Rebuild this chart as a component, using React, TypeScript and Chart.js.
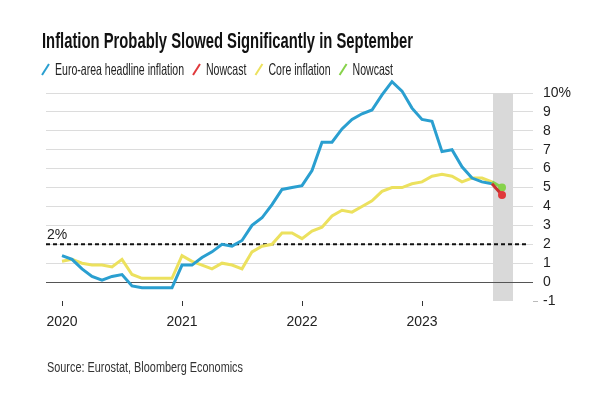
import React, { useEffect, useRef } from "react";
import { Chart, registerables } from "chart.js";

Chart.register(...registerables);

// ---- Data (monthly, Jan 2020 .. Aug 2023) ----
const yearLabels = ["2020", "2021", "2022", "2023"];
const headline = [
  1.4, 1.2, 0.7, 0.3, 0.1, 0.3, 0.4, -0.2, -0.3, -0.3, -0.3, -0.3,
  0.9, 0.9, 1.3, 1.6, 2.0, 1.9, 2.2, 3.0, 3.4, 4.1, 4.9, 5.0,
  5.1, 5.9, 7.4, 7.4, 8.1, 8.6, 8.9, 9.1, 9.9, 10.6, 10.1, 9.2,
  8.6, 8.5, 6.9, 7.0, 6.1, 5.5, 5.3, 5.2,
];
const core = [
  1.1, 1.2, 1.0, 0.9, 0.9, 0.8, 1.2, 0.4, 0.2, 0.2, 0.2, 0.2,
  1.4, 1.1, 0.9, 0.7, 1.0, 0.9, 0.7, 1.6, 1.9, 2.0, 2.6, 2.6,
  2.3, 2.7, 2.9, 3.5, 3.8, 3.7, 4.0, 4.3, 4.8, 5.0, 5.0, 5.2,
  5.3, 5.6, 5.7, 5.6, 5.3, 5.5, 5.5, 5.3,
];
const headlineNowcast = 4.6; // Sep 2023
const coreNowcast = 5.0; // Sep 2023
const yTickValues = [-1, 0, 1, 2, 3, 4, 5, 6, 7, 8, 9, 10];
const targetRate = 2;
const legendItems = [
  { label: "Euro-area headline inflation", color: "#2a9fd0" },
  { label: "Nowcast", color: "#e0393c" },
  { label: "Core inflation", color: "#ece15e" },
  { label: "Nowcast", color: "#86d24a" },
];
const titleText = "Inflation Probably Slowed Significantly in September";
const sourceText = "Source: Eurostat, Bloomberg Economics";

const FONT = '"Liberation Sans Narrow", "Liberation Sans", Arial, sans-serif';
const lastIdx = headline.length - 1;
const nowIdx = headline.length;

function drawFit(ctx: CanvasRenderingContext2D, text: string, x: number, y: number, font: string, color: string, width: number) {
  ctx.save();
  ctx.font = font;
  const m = ctx.measureText(text).width;
  const s = width / m;
  ctx.translate(x, y);
  ctx.scale(s, 1);
  ctx.fillStyle = color;
  ctx.textAlign = "left";
  ctx.textBaseline = "alphabetic";
  ctx.fillText(text, 0, 0);
  ctx.restore();
}

const chromePlugin = {
  id: "chrome",
  beforeDatasetsDraw(chart: any) {
    const { ctx, chartArea, scales } = chart;
    const x = scales.x;
    const y = scales.y;
    ctx.save();
    // nowcast band
    const x0 = x.getPixelForValue(nowIdx - 0.9);
    const x1 = x.getPixelForValue(nowIdx + 1.1);
    ctx.fillStyle = "#d9d9d9";
    ctx.fillRect(x0, chartArea.top, x1 - x0, chartArea.bottom - chartArea.top);
    // zero line over band
    const y0 = Math.round(y.getPixelForValue(0)) + 0.5;
    ctx.strokeStyle = "#555";
    ctx.lineWidth = 1;
    ctx.beginPath();
    ctx.moveTo(chartArea.left, y0);
    ctx.lineTo(chartArea.right, y0);
    ctx.stroke();
    // 2% target dashed line
    const yt = y.getPixelForValue(targetRate);
    ctx.strokeStyle = "#111";
    ctx.lineWidth = 2;
    ctx.setLineDash([4, 3]);
    ctx.beginPath();
    ctx.moveTo(chartArea.left, yt);
    ctx.lineTo(chartArea.right - 5, yt);
    ctx.stroke();
    ctx.restore();
  },
  afterDraw(chart: any) {
    const { ctx, scales, chartArea } = chart;
    const y = scales.y;
    // small tick at bottom value
    ctx.save();
    const yb = Math.round(y.getPixelForValue(yTickValues[0])) + 0.5;
    ctx.strokeStyle = "#bbb";
    ctx.lineWidth = 1;
    ctx.beginPath();
    ctx.moveTo(chartArea.right, yb);
    ctx.lineTo(chartArea.right + 5, yb);
    ctx.stroke();
    ctx.restore();
    // title
    drawFit(ctx, titleText, 42, 48, `bold 22px ${FONT}`, "#111", 371);
    // legend
    ctx.save();
    const lf = `16.5px ${FONT}`;
    ctx.font = lf;
    const s = 129 / ctx.measureText(legendItems[0].label).width;
    let lx = 42;
    const baseY = 75;
    for (const it of legendItems) {
      ctx.strokeStyle = it.color;
      ctx.lineWidth = 2;
      ctx.beginPath();
      ctx.moveTo(lx, baseY);
      ctx.lineTo(lx + 7, baseY - 11);
      ctx.stroke();
      ctx.font = lf;
      const w = ctx.measureText(it.label).width * s;
      drawFit(ctx, it.label, lx + 13, baseY, lf, "#222", w);
      lx = lx + 13 + w + 9;
    }
    ctx.restore();
    // 2% label
    ctx.save();
    ctx.font = `14px ${FONT}`;
    ctx.fillStyle = "#222";
    ctx.textBaseline = "alphabetic";
    ctx.fillText(`${targetRate}%`, 47, y.getPixelForValue(targetRate) - 5);
    ctx.restore();
    // source
    drawFit(ctx, sourceText, 47, 372, `14px ${FONT}`, "#333", 196);
  },
};

export default function App() {
  const ref = useRef<HTMLCanvasElement | null>(null);
  useEffect(() => {
    if (!ref.current) return;
    Chart.defaults.font.family = FONT;
    const chart = new Chart(ref.current, {
      type: "line",
      data: {
        datasets: [
          {
            label: "Nowcast core",
            data: [
              { x: lastIdx, y: core[lastIdx] },
              { x: nowIdx, y: coreNowcast },
            ],
            borderColor: "#86d24a",
            backgroundColor: "#86d24a",
            borderWidth: 3,
            pointRadius: [0, 4],
            pointBorderWidth: 0,
            clip: false,
            order: 1,
          },
          {
            label: "Nowcast headline",
            data: [
              { x: lastIdx, y: headline[lastIdx] },
              { x: nowIdx, y: headlineNowcast },
            ],
            borderColor: "#c7302f",
            backgroundColor: "#e0393c",
            borderWidth: 3,
            pointRadius: [0, 4],
            pointBorderWidth: 0,
            clip: false,
            order: 0,
          },
          {
            label: "Euro-area headline inflation",
            data: headline.map((v, i) => ({ x: i, y: v })),
            borderColor: "#2a9fd0",
            borderWidth: 3,
            pointRadius: 0,
            tension: 0,
            clip: false,
            order: 2,
          },
          {
            label: "Core inflation",
            data: core.map((v, i) => ({ x: i, y: v })),
            borderColor: "#ece15e",
            borderWidth: 3,
            pointRadius: 0,
            tension: 0,
            clip: false,
            order: 3,
          },
        ],
      },
      options: {
        responsive: false,
        animation: false,
        layout: { padding: { left: 46, top: 93, right: 0, bottom: 0 } },
        plugins: { legend: { display: false }, tooltip: { enabled: false }, title: { display: false } },
        scales: {
          x: {
            type: "linear",
            min: -1.6,
            max: 47.1,
            afterFit: (sc: any) => {
              sc.height = 99;
            },
            afterBuildTicks: (sc: any) => {
              sc.ticks = yearLabels.map((_, i) => ({ value: i * 12 }));
            },
            ticks: {
              callback: (v: any) => yearLabels[Math.round(Number(v) / 12)],
              font: { size: 14 },
              color: "#222",
              padding: 8,
              maxRotation: 0,
              autoSkip: false,
            },
            grid: { drawOnChartArea: false, drawTicks: true, tickLength: 5, color: "#333" },
            border: { display: false },
          },
          y: {
            position: "right",
            min: -1,
            max: 10,
            afterFit: (sc: any) => {
              sc.width = 67;
            },
            afterBuildTicks: (sc: any) => {
              sc.ticks = yTickValues.map((v) => ({ value: v }));
            },
            ticks: {
              callback: (v: any) => (Number(v) === 10 ? "10%" : String(v)),
              font: { size: 14 },
              color: "#222",
              padding: 10,
              autoSkip: false,
            },
            grid: {
              drawTicks: false,
              color: (c: any) => (c.tick && c.tick.value === -1 ? "rgba(0,0,0,0)" : c.tick && c.tick.value === 0 ? "#555" : "#dcdcdc"),
            },
            border: { display: false },
          },
        },
      },
      plugins: [chromePlugin],
    });
    return () => chart.destroy();
  }, []);
  return (
    <div style={{ position: "absolute", left: 0, top: 0, width: 600, height: 400, background: "#fff" }}>
      <canvas ref={ref} width={600} height={400} />
    </div>
  );
}
